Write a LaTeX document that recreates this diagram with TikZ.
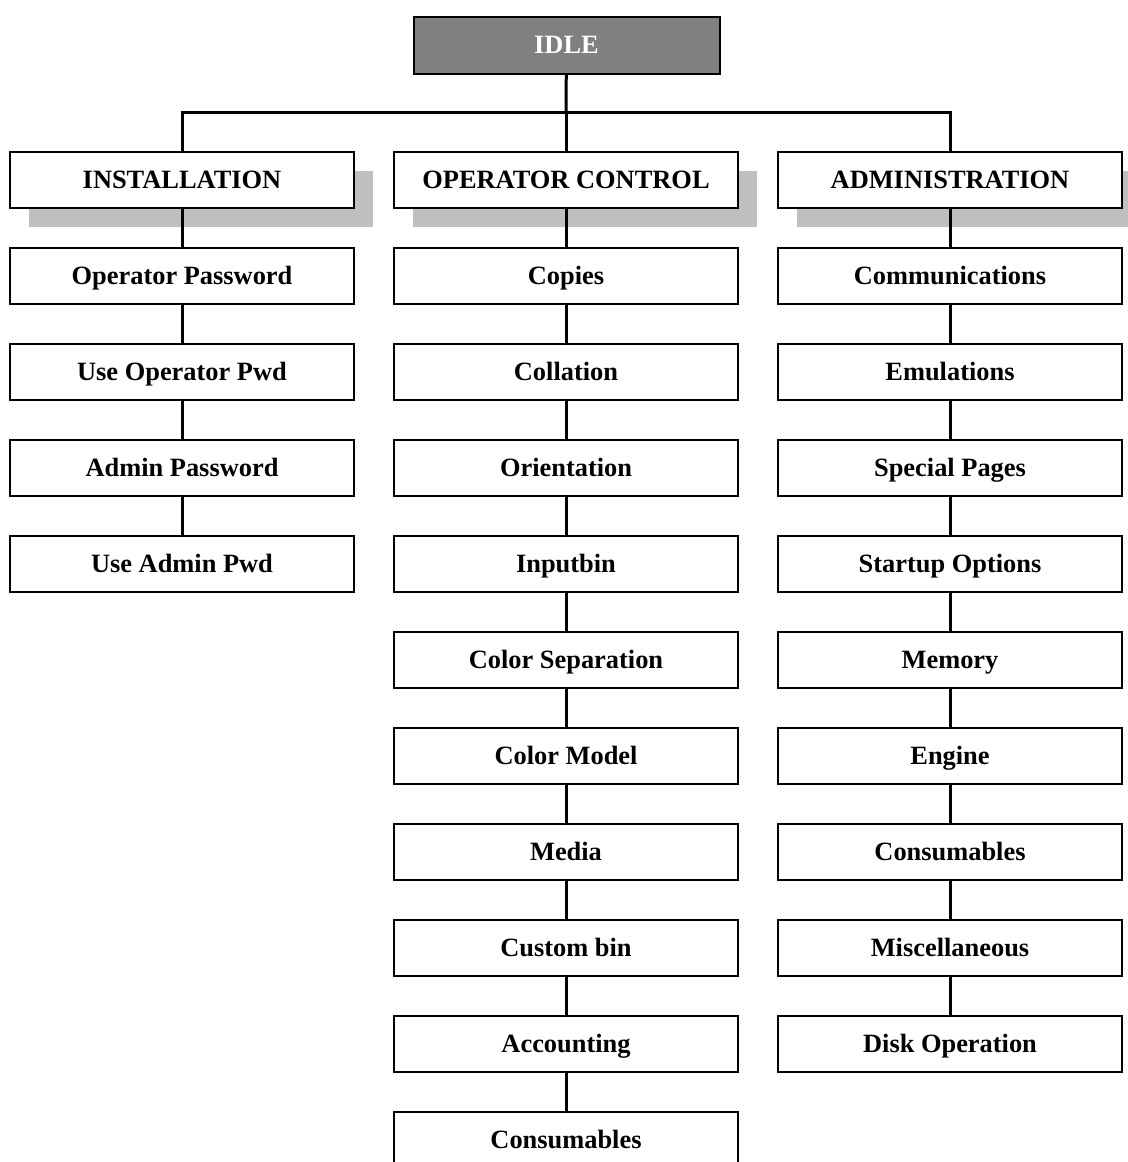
\documentclass[tikz,border=0pt]{standalone}
\usepackage{fontspec}
\setmainfont{Liberation Serif}
\usetikzlibrary{shadows}
\tikzset{
	hop/.style={draw=black,line width=1pt,fill=white,minimum width=172pt,minimum height=28pt,inner sep=0pt,text height=8.8pt,text depth=0pt},
	tieude/.style={hop,drop shadow={shadow xshift=9.5pt,shadow yshift=-9.5pt,fill=black!25,opacity=1}},
	noi/.style={line width=1.5pt}
}
\begin{document}
\begin{tikzpicture}[x=0.5pt,y=-0.5pt,line join=miter,font=\fontsize{13.2}{15}\selectfont\bfseries]
	\useasboundingbox (0,0) rectangle (1128,1162);
	% Hộp gốc
	\node[draw=black,line width=1pt,fill=black!50,text=white,minimum width=153pt,minimum height=28.5pt,inner sep=0pt,text height=8.8pt,text depth=0pt] (idle) at (566.5,45) {IDLE};
	% Ba nhánh chính
	\node[tieude] (inst) at (182,179.5) {INSTALLATION};
	\node[tieude] (opctl) at (566,179.5) {OPERATOR CONTROL};
	\node[tieude] (admin) at (950,179.5) {ADMINISTRATION};
	\coordinate (bar) at (566,112);
	\draw[noi] (idle) -- (bar);
	\draw[noi] (inst) |- (bar) -| (admin);
	\draw[noi] (bar) -- (opctl);
	% Cột trái
	\foreach \ten [count=\i] in {Operator Password,Use Operator Pwd,Admin Password,Use Admin Pwd}
		\node[hop] (i\i) at (182,{179.5+96*\i}) {\ten};
	% Cột giữa
	\foreach \ten [count=\i] in {Copies,Collation,Orientation,Inputbin,Color Separation,Color Model,Media,Custom bin,Accounting,Consumables}
		\node[hop] (o\i) at (566,{179.5+96*\i}) {\ten};
	% Cột phải
	\foreach \ten [count=\i] in {Communications,Emulations,Special Pages,Startup Options,Memory,Engine,Consumables,Miscellaneous,Disk Operation}
		\node[hop] (a\i) at (950,{179.5+96*\i}) {\ten};
	% Các đường nối
	\draw[noi] (inst) -- (i1) (opctl) -- (o1) (admin) -- (a1);
	\foreach \i/\j in {1/2,2/3,3/4}
		\draw[noi] (i\i) -- (i\j);
	\foreach \i/\j in {1/2,2/3,3/4,4/5,5/6,6/7,7/8,8/9,9/10}
		\draw[noi] (o\i) -- (o\j);
	\foreach \i/\j in {1/2,2/3,3/4,4/5,5/6,6/7,7/8,8/9}
		\draw[noi] (a\i) -- (a\j);
\end{tikzpicture}
\end{document}
